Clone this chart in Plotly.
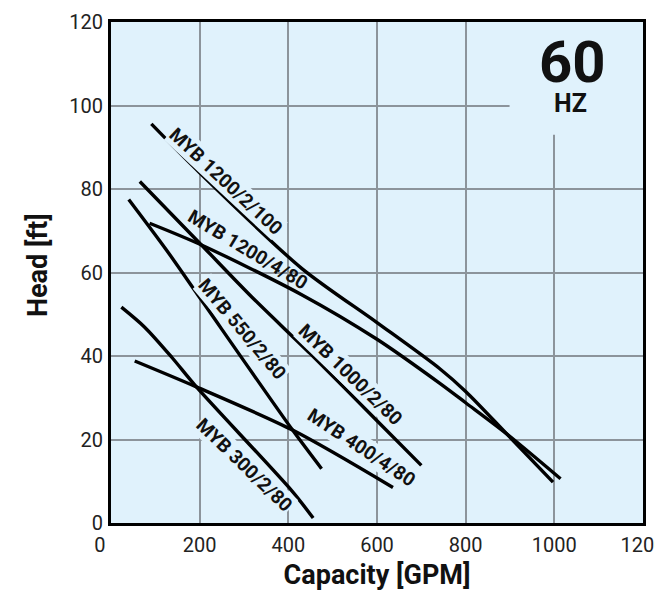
import plotly.graph_objects as go

# ---- data ----
capacity_1200_2_100 = [91, 200, 430, 600, 741, 800, 892, 997]
head_1200_2_100 = [95.6, 83.9, 61.0, 48.0, 37.0, 31.5, 21.4, 9.8]

capacity_1200_4_80 = [87, 204, 428, 600, 741, 800, 892, 1014]
head_1200_4_80 = [71.8, 66.6, 54.8, 44.0, 33.5, 28.8, 21.4, 10.6]

capacity_1000_2_80 = [65, 204, 317, 450, 600, 700]
head_1000_2_80 = [81.8, 66.6, 54.2, 40.5, 24.5, 13.8]

capacity_550_2_80 = [40, 125, 204, 410, 475]
head_550_2_80 = [77.5, 65.4, 53.4, 22.2, 13.0]

capacity_400_4_80 = [53.5, 192.6, 410.6, 636]
head_400_4_80 = [38.8, 32.6, 22.2, 8.5]

capacity_300_2_80 = [23.4, 76, 137, 192.6, 407, 456]
head_300_2_80 = [51.7, 46.9, 39.7, 32.6, 7.8, 1.2]

model_names = ["MYB 1200/2/100", "MYB 1200/4/80", "MYB 1000/2/80",
               "MYB 550/2/80", "MYB 400/4/80", "MYB 300/2/80"]

x_tick_values = [0, 200, 400, 600, 800, 1000, 1200]
y_tick_values = [0, 20, 40, 60, 80, 100, 120]

x_title = "Capacity [GPM]"
y_title = "Head [ft]"
freq_value = "60"
freq_unit = "HZ"

# ---- layout / style (not data) ----
series = [
    (capacity_1200_2_100, head_1200_2_100),
    (capacity_1200_4_80, head_1200_4_80),
    (capacity_1000_2_80, head_1000_2_80),
    (capacity_550_2_80, head_550_2_80),
    (capacity_400_4_80, head_400_4_80),
    (capacity_300_2_80, head_300_2_80),
]
# label anchor (data units), text angle, and whether its box hides the grid
label_places = [
    (260, 81.9, 43, True),
    (308, 65.4, 31, False),
    (540, 35.6, 44, True),
    (297, 46.4, 50, True),
    (565, 18.0, 33.5, True),
    (302, 13.8, 44, True),
]

BG = "rgb(224,242,252)"
GRID = "rgb(140,148,155)"
FONT = "Roboto"

fig = go.Figure()
for (xs, ys), name in zip(series, model_names):
    fig.add_trace(go.Scatter(
        x=xs, y=ys, mode="lines", name=name,
        line=dict(color="black", width=3.4, shape="spline", smoothing=0.8),
        showlegend=False, hoverinfo="skip",
    ))

for name, (lx, ly, ang, boxed) in zip(model_names, label_places):
    fig.add_annotation(
        x=lx, y=ly, xref="x", yref="y", text="<b>" + name + "</b>",
        showarrow=False, textangle=ang,
        bgcolor=BG if boxed else "rgba(0,0,0,0)", borderpad=0,
        font=dict(family=FONT, size=19, color="#111"),
    )

# box behind the "60 HZ" mark that hides the grid
fig.add_shape(type="rect", xref="x", yref="y", x0=899, x1=1200, y0=93, y1=120,
              fillcolor=BG, line_width=0, layer="between")
fig.add_annotation(x=1041.5, y=110.4, xref="x", yref="y", text="<b>" + freq_value + "</b>",
                   showarrow=False, font=dict(family=FONT, size=58, color="#111"))
fig.add_annotation(x=1037, y=100.5, xref="x", yref="y", text="<b>" + freq_unit + "</b>",
                   showarrow=False, font=dict(family=FONT, size=25, color="#111"))

# y axis title
fig.add_annotation(x=-0.137, y=0.515, xref="paper", yref="paper",
                   text="<b>" + y_title + "</b>", textangle=-90, showarrow=False,
                   xanchor="center", yanchor="middle",
                   font=dict(family=FONT, size=27, color="#111"))

x_tick_text = [("0\u2007\u2007" if v == 0 else str(v)) for v in x_tick_values]

# the page places the figure 8 px from the top-left corner of the window
fig.update_layout(
    width=655, height=586,
    margin=dict(l=103, r=20, t=14, b=71),
    paper_bgcolor="white", plot_bgcolor=BG,
    font=dict(family=FONT, color="#222"),
    xaxis=dict(
        range=[0, 1200], tickvals=x_tick_values, ticktext=x_tick_text,
        automargin=False, ticklabeloverflow="allow",
        showgrid=True, gridcolor=GRID, gridwidth=1.6,
        showline=True, linecolor="black", linewidth=3, mirror=True,
        ticks="outside", ticklen=2, tickcolor="rgba(0,0,0,0)",
        tickfont=dict(family=FONT, size=20, color="#222"),
        title=dict(text="<b>" + x_title + "</b>", standoff=10,
                   font=dict(family=FONT, size=27, color="#111")),
        zeroline=False,
    ),
    yaxis=dict(
        range=[0, 120], tickvals=y_tick_values,
        automargin=False, ticklabeloverflow="allow",
        showgrid=True, gridcolor=GRID, gridwidth=1.6,
        showline=True, linecolor="black", linewidth=3, mirror=True,
        ticks="outside", ticklen=1, tickcolor="rgba(0,0,0,0)",
        tickfont=dict(family=FONT, size=20, color="#222"),
        zeroline=False,
    ),
)

fig.write_html("out.html")
